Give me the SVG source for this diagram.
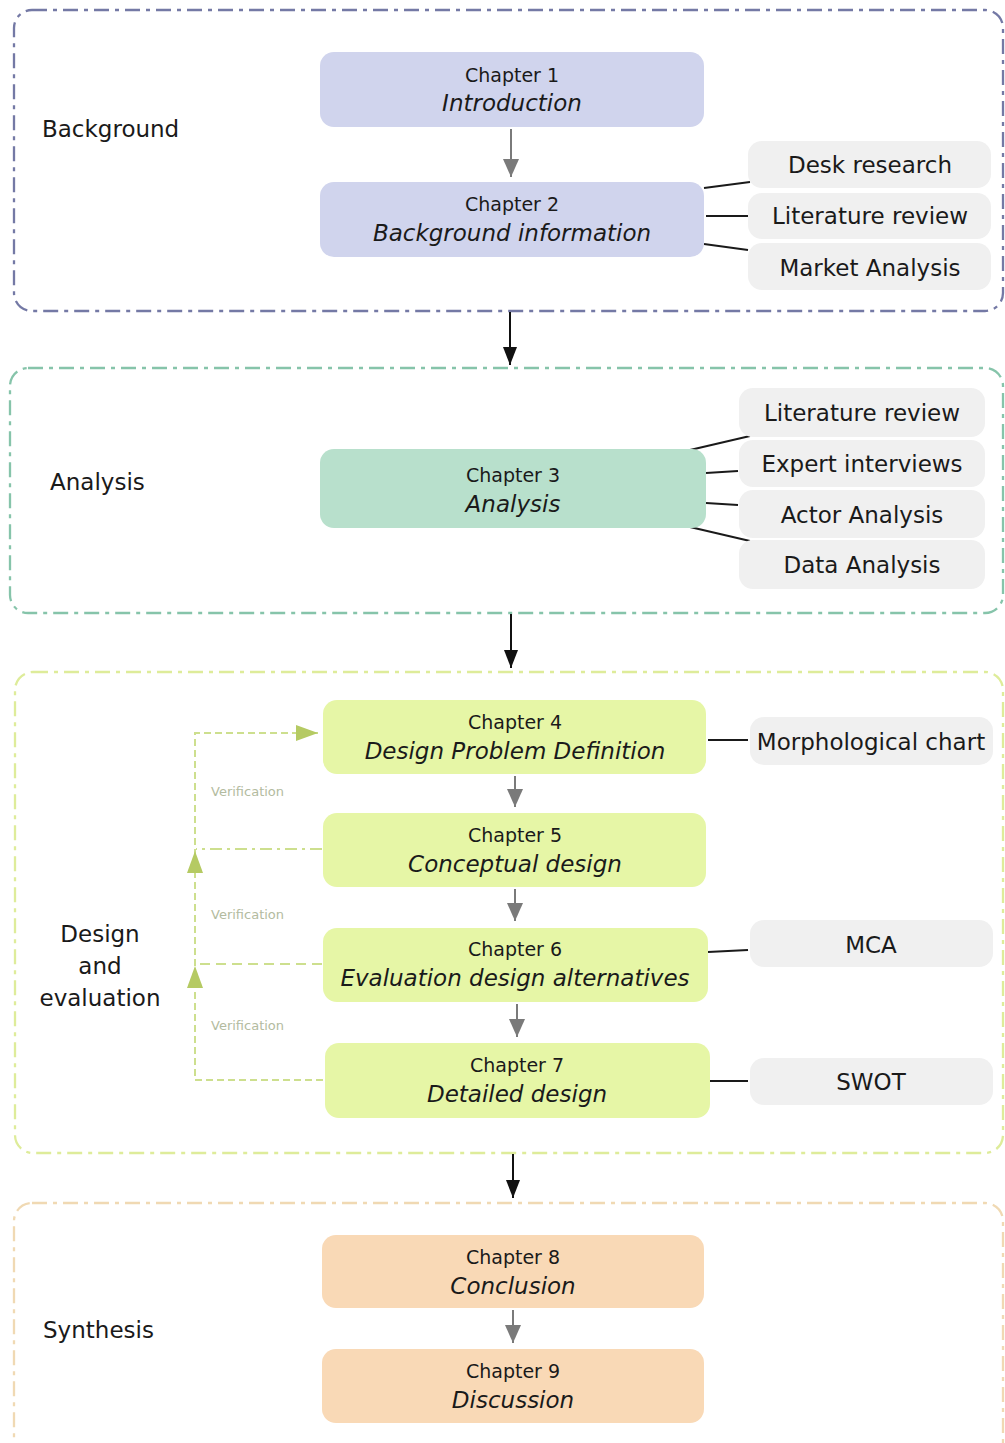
<svg xmlns="http://www.w3.org/2000/svg" width="1005" height="1443" viewBox="0 0 1005 1443">
<style>
.grp{fill:none;stroke-width:2.3;stroke-dasharray:15 6 4 6}
.ch{stroke:none}
.side{fill:#f0f0f0;stroke:none}
.t1{font-family:"DejaVu Sans",sans-serif;font-size:19px;fill:#1a1a1a;text-anchor:middle}
.t2{font-family:"DejaVu Sans",sans-serif;font-size:23px;font-style:italic;fill:#1a1a1a;text-anchor:middle}
.st{font-family:"DejaVu Sans",sans-serif;font-size:23px;fill:#1a1a1a;text-anchor:middle}
.lbl{font-family:"DejaVu Sans",sans-serif;font-size:23px;fill:#1a1a1a}
.ver{font-family:"DejaVu Sans",sans-serif;font-size:13px;fill:#b3bba0}
.link{stroke:#1a1a1a;stroke-width:2;fill:none}
.garr{stroke:#7a7a7a;stroke-width:2;fill:none}
.barr{stroke:#111;stroke-width:2;fill:none}
.vline{stroke:#cddf8e;stroke-width:2;fill:none}
</style>
<defs>
<marker id="gh" viewBox="0 0 18 16" refX="18" refY="8" markerWidth="18" markerHeight="16" markerUnits="userSpaceOnUse" orient="auto"><path d="M0,0 L18,8 L0,16 Z" fill="#7a7a7a"/></marker>
<marker id="bh" viewBox="0 0 18 14" refX="18" refY="7" markerWidth="18" markerHeight="14" markerUnits="userSpaceOnUse" orient="auto"><path d="M0,0 L18,7 L0,14 Z" fill="#111"/></marker>
<marker id="vh" viewBox="0 0 22 16" refX="22" refY="8" markerWidth="22" markerHeight="16" markerUnits="userSpaceOnUse" orient="auto"><path d="M0,0 L22,8 L0,16 Z" fill="#b5ca63"/></marker>
</defs>

<!-- group containers -->
<g id="group-background"><rect class="grp" x="14" y="10" width="989" height="301" rx="18" stroke="#7479a5"/><text class="lbl" x="42" y="137">Background</text></g>
<g id="group-analysis"><rect class="grp" x="10" y="368" width="993" height="245" rx="18" stroke="#86c4aa"/><text class="lbl" x="50" y="490">Analysis</text></g>
<g id="group-design"><rect class="grp" x="15" y="672" width="988" height="481" rx="18" stroke="#deec9a"/><text class="st" x="100" y="942">Design</text><text class="st" x="100" y="974">and</text><text class="st" x="100" y="1006">evaluation</text></g>
<g id="group-synthesis"><rect class="grp" x="14" y="1203" width="989" height="260" rx="18" stroke="#f0d9b3"/><text class="lbl" x="43" y="1338">Synthesis</text></g>

<!-- connectors -->
<g id="connectors">
<line class="garr" x1="511" y1="129" x2="511" y2="177" marker-end="url(#gh)"/>
<line class="barr" x1="510" y1="312" x2="510" y2="365" marker-end="url(#bh)"/>
<line class="barr" x1="511" y1="614" x2="511" y2="668" marker-end="url(#bh)"/>
<line class="garr" x1="515" y1="776" x2="515" y2="807" marker-end="url(#gh)"/>
<line class="garr" x1="515" y1="889" x2="515" y2="921" marker-end="url(#gh)"/>
<line class="garr" x1="517" y1="1004" x2="517" y2="1037" marker-end="url(#gh)"/>
<line class="barr" x1="513" y1="1154" x2="513" y2="1198" marker-end="url(#bh)"/>
<line class="garr" x1="513" y1="1310" x2="513" y2="1343" marker-end="url(#gh)"/>
<!-- side links -->
<line class="link" x1="704" y1="188" x2="750" y2="182"/>
<line class="link" x1="706" y1="216" x2="748" y2="216"/>
<line class="link" x1="704" y1="244" x2="748" y2="250"/>
<line class="link" x1="690" y1="450" x2="750" y2="436"/>
<line class="link" x1="706" y1="473" x2="738" y2="471"/>
<line class="link" x1="706" y1="503" x2="738" y2="505"/>
<line class="link" x1="690" y1="527" x2="750" y2="541"/>
<line class="link" x1="708" y1="740" x2="748" y2="740"/>
<line class="link" x1="708" y1="952" x2="748" y2="950"/>
<line class="link" x1="710" y1="1081" x2="748" y2="1081"/>
<!-- verification loop -->
<path class="vline" d="M323,1080 L195,1080 L195,733 L318,733" stroke-dasharray="7 4" marker-end="url(#vh)"/>
<line class="vline" x1="322" y1="849" x2="196" y2="849" stroke-dasharray="12 5 3 5"/>
<line class="vline" x1="322" y1="964" x2="196" y2="964" stroke-dasharray="10 6"/>
<path d="M187,873 L195,851 L203,873 Z" fill="#b5ca63"/>
<path d="M187,988 L195,966 L203,988 Z" fill="#b5ca63"/>
<text class="ver" x="211" y="796">Verification</text>
<text class="ver" x="211" y="919">Verification</text>
<text class="ver" x="211" y="1030">Verification</text>
</g>

<!-- chapters -->
<g id="ch1"><rect class="ch" x="320" y="52" width="384" height="75" rx="14" fill="#d0d4ed"/><text class="t1" x="512" y="82">Chapter 1</text><text class="t2" x="512" y="111">Introduction</text></g>
<g id="ch2"><rect class="ch" x="320" y="182" width="384" height="75" rx="14" fill="#d0d4ed"/><text class="t1" x="512" y="211">Chapter 2</text><text class="t2" x="512" y="241">Background information</text></g>
<g id="ch3"><rect class="ch" x="320" y="449" width="386" height="79" rx="14" fill="#b8e0cc"/><text class="t1" x="513" y="482">Chapter 3</text><text class="t2" x="513" y="512">Analysis</text></g>
<g id="ch4"><rect class="ch" x="323" y="700" width="383" height="74" rx="14" fill="#e6f6a6"/><text class="t1" x="515" y="729">Chapter 4</text><text class="t2" x="515" y="759">Design Problem Definition</text></g>
<g id="ch5"><rect class="ch" x="323" y="813" width="383" height="74" rx="14" fill="#e6f6a6"/><text class="t1" x="515" y="842">Chapter 5</text><text class="t2" x="515" y="872">Conceptual design</text></g>
<g id="ch6"><rect class="ch" x="323" y="928" width="385" height="74" rx="14" fill="#e6f6a6"/><text class="t1" x="515" y="956">Chapter 6</text><text class="t2" x="515" y="986">Evaluation design alternatives</text></g>
<g id="ch7"><rect class="ch" x="325" y="1043" width="385" height="75" rx="14" fill="#e6f6a6"/><text class="t1" x="517" y="1072">Chapter 7</text><text class="t2" x="517" y="1102">Detailed design</text></g>
<g id="ch8"><rect class="ch" x="322" y="1235" width="382" height="73" rx="14" fill="#f9d9b6"/><text class="t1" x="513" y="1264">Chapter 8</text><text class="t2" x="513" y="1294">Conclusion</text></g>
<g id="ch9"><rect class="ch" x="322" y="1349" width="382" height="74" rx="14" fill="#f9d9b6"/><text class="t1" x="513" y="1378">Chapter 9</text><text class="t2" x="513" y="1408">Discussion</text></g>

<!-- side methods -->
<g id="s-desk"><rect class="side" x="748" y="141" width="243" height="47" rx="14"/><text class="st" x="870" y="173">Desk research</text></g>
<g id="s-lit1"><rect class="side" x="748" y="193" width="243" height="46" rx="14"/><text class="st" x="870" y="224">Literature review</text></g>
<g id="s-market"><rect class="side" x="748" y="243" width="243" height="47" rx="14"/><text class="st" x="870" y="276">Market Analysis</text></g>
<g id="s-lit2"><rect class="side" x="739" y="388" width="246" height="49" rx="14"/><text class="st" x="862" y="421">Literature review</text></g>
<g id="s-expert"><rect class="side" x="739" y="440" width="246" height="47" rx="14"/><text class="st" x="862" y="472">Expert interviews</text></g>
<g id="s-actor"><rect class="side" x="739" y="490" width="246" height="48" rx="14"/><text class="st" x="862" y="523">Actor Analysis</text></g>
<g id="s-data"><rect class="side" x="739" y="540" width="246" height="49" rx="14"/><text class="st" x="862" y="573">Data Analysis</text></g>
<g id="s-morph"><rect class="side" x="750" y="717" width="243" height="48" rx="14"/><text class="st" x="871" y="750">Morphological chart</text></g>
<g id="s-mca"><rect class="side" x="750" y="920" width="243" height="47" rx="14"/><text class="st" x="871" y="953">MCA</text></g>
<g id="s-swot"><rect class="side" x="750" y="1058" width="243" height="47" rx="14"/><text class="st" x="871" y="1090">SWOT</text></g>
</svg>
